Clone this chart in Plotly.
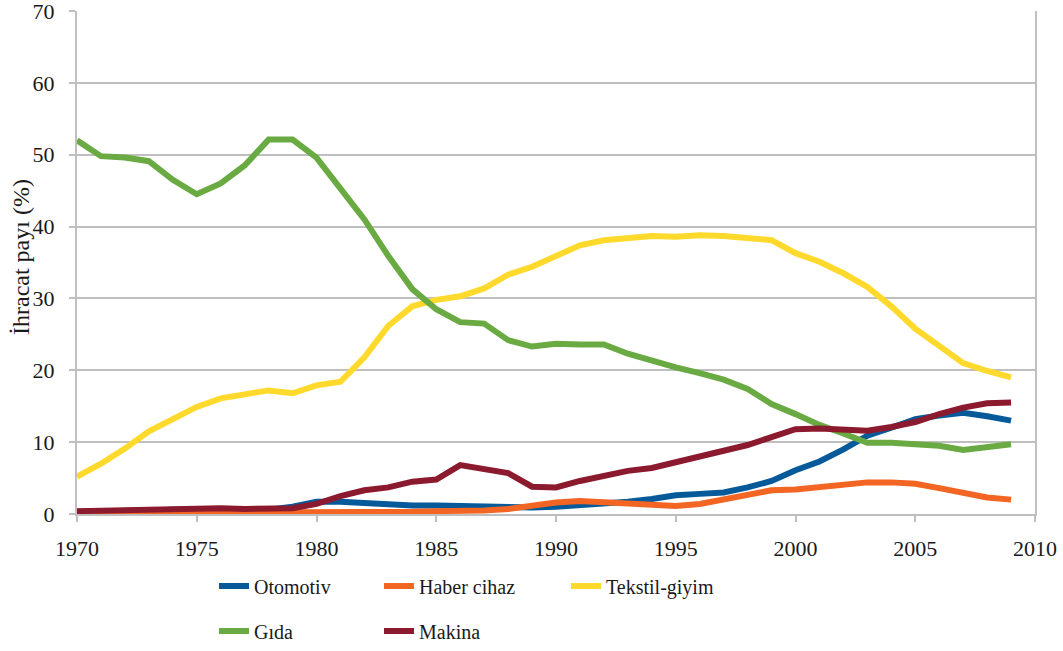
import plotly.graph_objects as go

years = list(range(1970, 2010))

otomotiv = [0.3, 0.3, 0.4, 0.5, 0.6, 0.6, 0.6, 0.6, 0.6, 1.0,
            1.7, 1.7, 1.5, 1.2, 1.2, 1.2, 1.1, 1.0, 1.0, 0.9,
            1.0, 1.2, 1.4, 1.7, 2.1, 2.6, 2.8, 3.0, 3.7, 4.6,
            6.1, 7.3, 9.0, 10.9, 12.0, 13.2, 13.7, 14.1, 13.6, 13.0]

haber_cihaz = [0.1, 0.1, 0.1, 0.1, 0.1, 0.1, 0.1, 0.1, 0.1, 0.1,
               0.1, 0.1, 0.1, 0.2, 0.3, 0.4, 0.4, 0.5, 0.7, 1.2,
               1.6, 1.8, 1.6, 1.3, 1.1, 1.1, 1.4, 2.1, 2.7, 3.3,
               3.4, 3.8, 4.0, 4.4, 4.4, 4.2, 3.6, 2.9, 2.3, 2.0]

tekstil_giyim = [5.2, 7.0, 9.1, 11.5, 13.2, 14.9, 16.1, 16.6, 17.2, 16.8,
                 17.9, 18.4, 21.8, 26.2, 28.9, 29.8, 30.3, 31.4, 33.3, 34.4,
                 36.0, 37.4, 38.1, 38.5, 38.7, 38.6, 38.8, 38.7, 38.5, 38.1,
                 36.3, 35.1, 33.5, 31.6, 28.9, 25.8, 23.4, 21.0, 19.9, 19.0]

gida = [52.0, 49.8, 49.6, 49.1, 46.5, 44.5, 46.0, 48.5, 52.1, 52.1,
        49.6, 45.2, 41.0, 35.9, 31.3, 28.5, 26.7, 26.5, 24.2, 23.3,
        23.7, 23.6, 23.6, 22.3, 21.3, 20.4, 19.6, 18.7, 17.4, 15.3,
        13.9, 12.4, 11.2, 9.9, 9.9, 9.8, 9.5, 8.9, 9.3, 9.7]

makina = [0.4, 0.5, 0.6, 0.7, 0.8, 0.8, 0.8, 0.7, 0.7, 0.8,
          1.4, 2.5, 3.3, 3.7, 4.5, 4.8, 6.8, 6.2, 5.7, 3.8,
          3.7, 4.6, 5.3, 6.0, 6.4, 7.2, 7.9, 8.7, 9.6, 10.7,
          11.8, 11.9, 11.8, 11.6, 12.1, 12.8, 13.9, 14.8, 15.4, 15.5]

x_ticks = [1970, 1975, 1980, 1985, 1990, 1995, 2000, 2005, 2010]
y_title = "İhracat payı (%)"

names = ["Otomotiv", "Haber cihaz", "Tekstil-giyim", "Gıda", "Makina"]
series = [otomotiv, haber_cihaz, tekstil_giyim, gida, makina]
colors = ["#065a9a", "#f26522", "#ffd92b", "#6aaa42", "#8c1a2f"]

# legend positions in pixels (left edge of item, center y)
leg_px = [(214, 586), (379, 586), (566, 586), (214, 631), (379, 631)]

L, R, T, B = 77, 28, 11, 137
W, H = 1063, 651
pw = W - L - R
ph = H - T - B

SERIF = "Liberation Serif"
tick_font = dict(family=SERIF, size=22, color="#1a1a1a")
leg_font = dict(family=SERIF, size=20, color="#1a1a1a")
title_font = dict(family=SERIF, size=24, color="#1a1a1a")

fig = go.Figure()
for i in range(5):
    fig.add_trace(go.Scatter(
        x=years, y=series[i], name=names[i], mode="lines",
        line=dict(color=colors[i], width=6),
        legend="legend" if i == 0 else f"legend{i+1}",
    ))

layout_legends = {}
for i, (px, py) in enumerate(leg_px):
    key = "legend" if i == 0 else f"legend{i+1}"
    layout_legends[key] = dict(
        x=(px - L) / pw, y=(H - B - py) / ph,
        xanchor="left", yanchor="middle", orientation="h",
        font=leg_font, bgcolor="rgba(0,0,0,0)", borderwidth=0,
        itemwidth=30,
    )

fig.update_layout(
    template="none",
    width=W, height=H,
    margin=dict(l=L, r=R, t=T, b=B, autoexpand=False),
    paper_bgcolor="white", plot_bgcolor="white",
    font=tick_font,
    showlegend=True,
    xaxis=dict(range=[1970, 2010], tickvals=x_ticks, automargin=False,
               ticklabeloverflow="allow", ticklabelstandoff=8,
               showgrid=False, showline=True, linecolor="#bfbfbf", linewidth=2,
               ticks="outside", ticklen=6, tickwidth=2, tickcolor="#bfbfbf",
               zeroline=False, tickfont=tick_font),
    yaxis=dict(range=[0, 70], dtick=10, automargin=False,
               ticklabeloverflow="allow", ticklabelstandoff=10,
               showgrid=True, gridcolor="#bfbfbf", gridwidth=2,
               showline=True, linecolor="#bfbfbf", linewidth=2, mirror=True,
               ticks="outside", ticklen=6, tickwidth=2, tickcolor="#bfbfbf",
               zeroline=False, tickfont=tick_font),
    annotations=[dict(text=y_title, textangle=-90, font=title_font,
                      xref="paper", yref="paper",
                      x=(21 - L) / pw, y=(H - B - 257) / ph,
                      xanchor="center", yanchor="middle", showarrow=False)],
    **layout_legends,
)

fig.write_html("out.html", config={"displayModeBar": False},
               post_script="document.body.style.margin='0';")
